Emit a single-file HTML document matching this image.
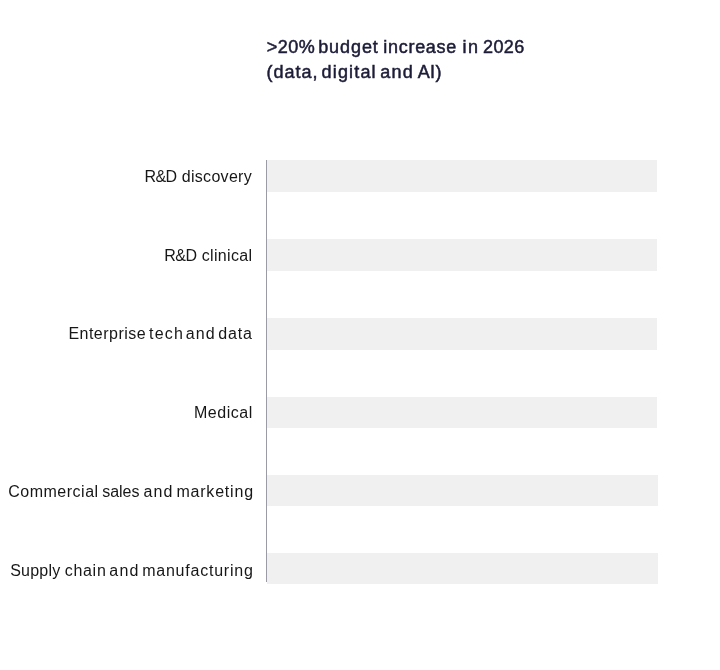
<!DOCTYPE html>
<html lang="en">
<head>
<meta charset="utf-8">
<title>Budget increase chart</title>
<style>
  html, body { margin: 0; padding: 0; background: #ffffff; }
  body { width: 720px; height: 670px; position: relative; overflow: hidden;
         font-family: "Liberation Sans", sans-serif; }
  .title, .lab { position: absolute; left: 0; margin: 0; white-space: pre; will-change: transform; }
  .title { width: 720px; height: 25px; font-size: 18px; line-height: 25px; font-weight: normal;
           color: #1c1c38; -webkit-text-stroke: 0.5px #1c1c38; }
  .lab { width: 262px; height: 20px; font-size: 16px; line-height: 20px; color: #171717; }
  .w { position: absolute; top: 0; }
  .axis { position: absolute; left: 266px; top: 160px; width: 1px; height: 422px; background: #9b9ba6; }
  .bar { position: absolute; left: 267px; background: #f0f0f0; }
</style>
</head>
<body>
  <div class="title" style="top:34.7px"><span class="w" style="left:266.8px;letter-spacing:0.44px">&gt;20%</span> <span class="w" style="left:318.2px;letter-spacing:0.92px">budget</span> <span class="w" style="left:383.3px;letter-spacing:0.71px">increase</span> <span class="w" style="left:462.6px;letter-spacing:1.3px">in</span> <span class="w" style="left:483.1px;letter-spacing:0.37px">2026</span></div>
  <div class="title" style="top:59.6px"><span class="w" style="left:266.4px;letter-spacing:1.04px">(data,</span> <span class="w" style="left:321.6px;letter-spacing:1.16px">digital</span> <span class="w" style="left:380.2px;letter-spacing:1.3px">and</span> <span class="w" style="left:417.7px;letter-spacing:0.35px">AI)</span></div>
  <div class="axis"></div>
  <div class="bar" style="top:160px;height:32px;width:390px"></div>
  <div class="bar" style="top:239px;height:32px;width:390px"></div>
  <div class="bar" style="top:318px;height:32px;width:390px"></div>
  <div class="bar" style="top:397px;height:31px;width:390px"></div>
  <div class="bar" style="top:475px;height:31px;width:391px"></div>
  <div class="bar" style="top:553px;height:31px;width:391px"></div>
  <div class="lab" style="top:167px"><span class="w" style="left:144.5px;letter-spacing:-0.63px">R&amp;D</span> <span class="w" style="left:181.8px;letter-spacing:0.29px">discovery</span></div>
  <div class="lab" style="top:246px"><span class="w" style="left:164.2px;letter-spacing:-0.43px">R&amp;D</span> <span class="w" style="left:201.8px;letter-spacing:0.31px">clinical</span></div>
  <div class="lab" style="top:324.4px"><span class="w" style="left:68.4px;letter-spacing:0.48px">Enterprise</span> <span class="w" style="left:149.1px;letter-spacing:1.19px">tech</span> <span class="w" style="left:185.7px;letter-spacing:1.18px">and</span> <span class="w" style="left:218.2px;letter-spacing:0.84px">data</span></div>
  <div class="lab" style="top:403px"><span class="w" style="left:194.0px;letter-spacing:0.51px">Medical</span></div>
  <div class="lab" style="top:482px"><span class="w" style="left:8.2px;letter-spacing:0.51px">Commercial</span> <span class="w" style="left:102.2px;letter-spacing:-0.04px">sales</span> <span class="w" style="left:143.5px;letter-spacing:1.13px">and</span> <span class="w" style="left:176.4px;letter-spacing:0.8px">marketing</span></div>
  <div class="lab" style="top:561px"><span class="w" style="left:10.2px;letter-spacing:0.21px">Supply</span> <span class="w" style="left:64.7px;letter-spacing:0.71px">chain</span> <span class="w" style="left:109.3px;letter-spacing:1.23px">and</span> <span class="w" style="left:142.2px;letter-spacing:0.77px">manufacturing</span></div>
</body>
</html>
